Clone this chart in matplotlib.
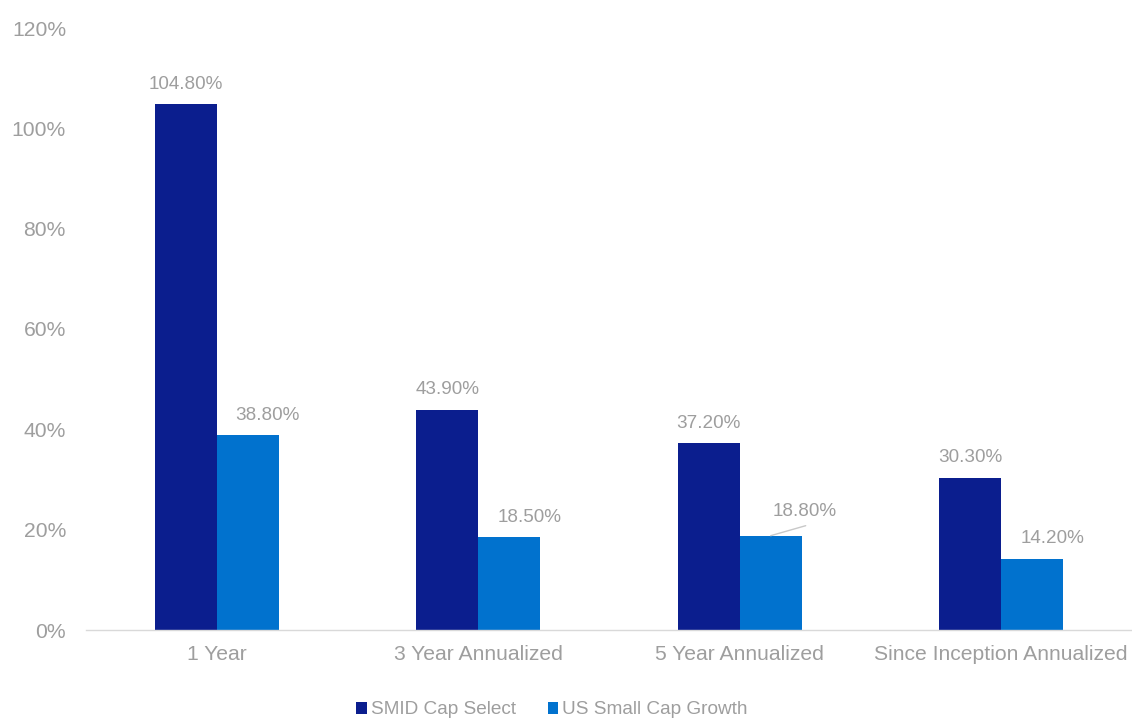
import matplotlib
matplotlib.use("Agg")
import matplotlib.pyplot as plt
import numpy as np

categories = ["1 Year", "3 Year Annualized", "5 Year Annualized", "Since Inception Annualized"]
smid = [104.8, 43.9, 37.2, 30.3]
small_growth = [38.8, 18.5, 18.8, 14.2]
series_names = ["SMID Cap Select", "US Small Cap Growth"]
yticks = [0, 20, 40, 60, 80, 100, 120]

dark = "#0B1E8E"
light = "#0172CE"
grey = "#9E9E9E"

plt.rcParams['font.family'] = ['Liberation Sans', 'DejaVu Sans']

fig = plt.figure(figsize=(11.32, 7.2), dpi=100)
ax = fig.add_axes([86/1132, 1-630/720, 1-86/1132, (630-28)/720])

x = np.arange(len(categories))
w = 62/262
b1 = ax.bar(x - w/2, smid, w, color=dark, label=series_names[0])
b2 = ax.bar(x + w/2, small_growth, w, color=light, label=series_names[1])

ax.set_xlim(-0.5, len(categories) - 0.5)
ax.set_ylim(0, 120)
ax.set_yticks(yticks)
ax.set_yticklabels([f"{t}%" for t in yticks], color=grey, fontsize=15.2)
ax.set_xticks(x)
ax.set_xticklabels(categories, color=grey, fontsize=15.2)
ax.tick_params(axis='both', length=0)
ax.tick_params(axis='y', pad=14.4)
ax.tick_params(axis='x', pad=10.5)
for s in ["top", "right", "left"]:
    ax.spines[s].set_visible(False)
ax.spines["bottom"].set_color("#D9D9D9")
ax.spines["bottom"].set_linewidth(1)

lab_fs = 13.6
for i, v in enumerate(smid):
    ax.annotate(f"{v:.2f}%", (x[i] - w/2, v), xytext=(0, 20), textcoords="offset pixels",
                ha="center", va="center", color=grey, fontsize=lab_fs)
for i, v in enumerate(small_growth):
    if i == 2:
        ax.annotate("", (x[i] + w/2, v), xytext=(35, 10), textcoords="offset pixels",
                    arrowprops=dict(arrowstyle="-", color="#C8C8C8", lw=1, shrinkA=0, shrinkB=0))
        ax.annotate(f"{v:.2f}%", (x[i] + w/2, v), xytext=(34, 24), textcoords="offset pixels",
                    ha="center", va="center", color=grey, fontsize=lab_fs)
    else:
        ax.annotate(f"{v:.2f}%", (x[i] + w/2, v), xytext=(20, 20), textcoords="offset pixels",
                    ha="center", va="center", color=grey, fontsize=lab_fs)

leg = fig.legend(handles=[b1, b2], loc="center", bbox_to_anchor=(552/1132, 1-710/720), ncol=2,
                 frameon=False, fontsize=13.7, handlelength=0.55, handleheight=0.55,
                 handletextpad=0.2, columnspacing=1.7)
for t in leg.get_texts():
    t.set_color(grey)

fig.savefig("out.png", dpi=100)
